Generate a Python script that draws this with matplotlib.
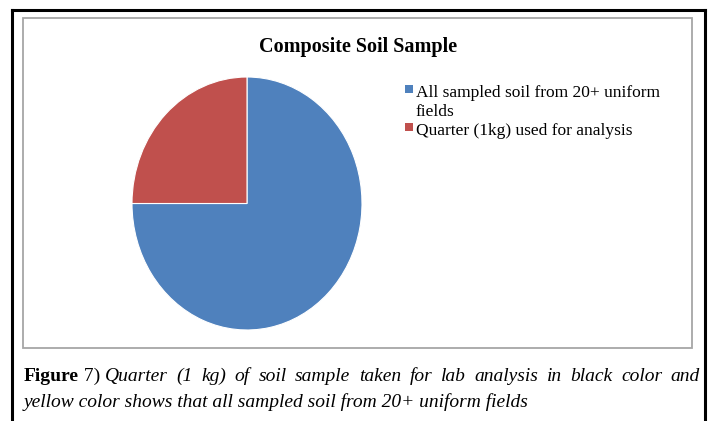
import matplotlib
matplotlib.use("Agg")
import matplotlib.pyplot as plt
from matplotlib.patches import Rectangle
from matplotlib.lines import Line2D

W, H = 711, 421
title = "Composite Soil Sample"
labels = ["All sampled soil from 20+ uniform\nfields", "Quarter (1kg) used for analysis"]
values = [75, 25]
colors = ["#4F81BD", "#C0504D"]
caption_bold = "Figure"
caption_num = " 7)"
caption_line1 = "Quarter (1 kg) of soil sample taken for lab analysis in black color and"
caption_line2 = "yellow color shows that all sampled soil from 20+ uniform fields"

fig = plt.figure(figsize=(W / 100, H / 100), dpi=100)
fig.patch.set_facecolor("white")

def fx(px):
    return px / W

def fy(py):
    return 1 - py / H

# outer black frame (left, top, right)
for (x0, y0, x1, y1) in [(12, 10, 12, 421), (12, 10, 705, 10), (705, 10, 705, 421)]:
    fig.add_artist(Line2D([fx(x0), fx(x1)], [fy(y0), fy(y1)], color="black", lw=2.2,
                          transform=fig.transFigure, solid_capstyle="projecting"))

# inner gray chart box
fig.add_artist(Rectangle((fx(23), fy(348)), fx(692) - fx(23), fy(18) - fy(348),
                         transform=fig.transFigure, facecolor="white",
                         edgecolor="#A6A6A6", lw=1.3, zorder=0))

# pie (slightly taller than wide, as in the reference)
ax = fig.add_axes([fx(132), fy(330), fx(362) - fx(132), fy(77) - fy(330)])
wedges, _ = ax.pie(values, colors=colors, startangle=90, counterclock=False,
                   wedgeprops=dict(edgecolor="white", linewidth=0.8))
ax.set_aspect("auto")
ax.set_xlim(-1, 1)
ax.set_ylim(-1, 1)
ax.axis("off")

fig.text(fx(358), fy(52), title, ha="center", va="baseline", fontsize=14.5,
         fontweight="bold", family="Liberation Serif")

# legend
leg_fs = 12.5
ys = [97, 135]
for lab, col, yb in zip(labels, colors, ys):
    fig.add_artist(Rectangle((fx(405), fy(yb - 4)), fx(8), 8 / H, transform=fig.transFigure,
                             facecolor=col, edgecolor="none"))
    lines = lab.split("\n")
    for i, ln in enumerate(lines):
        fig.text(fx(416), fy(yb + 19 * i), ln, ha="left", va="baseline",
                 fontsize=leg_fs, family="Liberation Serif")

# caption
cap_fs = 14.0
renderer = fig.canvas.get_renderer()
t1 = fig.text(fx(24), fy(381), caption_bold, ha="left", va="baseline", fontsize=cap_fs,
              fontweight="bold", family="Liberation Serif")
bb = t1.get_window_extent(renderer)
t2 = fig.text(bb.x1 / W, fy(381), caption_num, ha="left", va="baseline", fontsize=cap_fs,
              family="Liberation Serif")
bb2 = t2.get_window_extent(renderer)

# justify line 1 between end of "7)" and right margin
words = caption_line1.split(" ")
start = bb2.x1 + 5
end = 700
widths = []
for w_ in words:
    t = fig.text(0, 0, w_, fontsize=cap_fs, style="italic", family="Liberation Serif")
    widths.append(t.get_window_extent(renderer).width)
    t.remove()
gap = (end - start - sum(widths)) / (len(words) - 1)
x = start
for w_, wd in zip(words, widths):
    fig.text(x / W, fy(381), w_, ha="left", va="baseline", fontsize=cap_fs,
             style="italic", family="Liberation Serif")
    x += wd + gap

fig.text(fx(24), fy(407), caption_line2, ha="left", va="baseline", fontsize=cap_fs,
         style="italic", family="Liberation Serif")

fig.savefig("out.png", dpi=100, facecolor="white")
